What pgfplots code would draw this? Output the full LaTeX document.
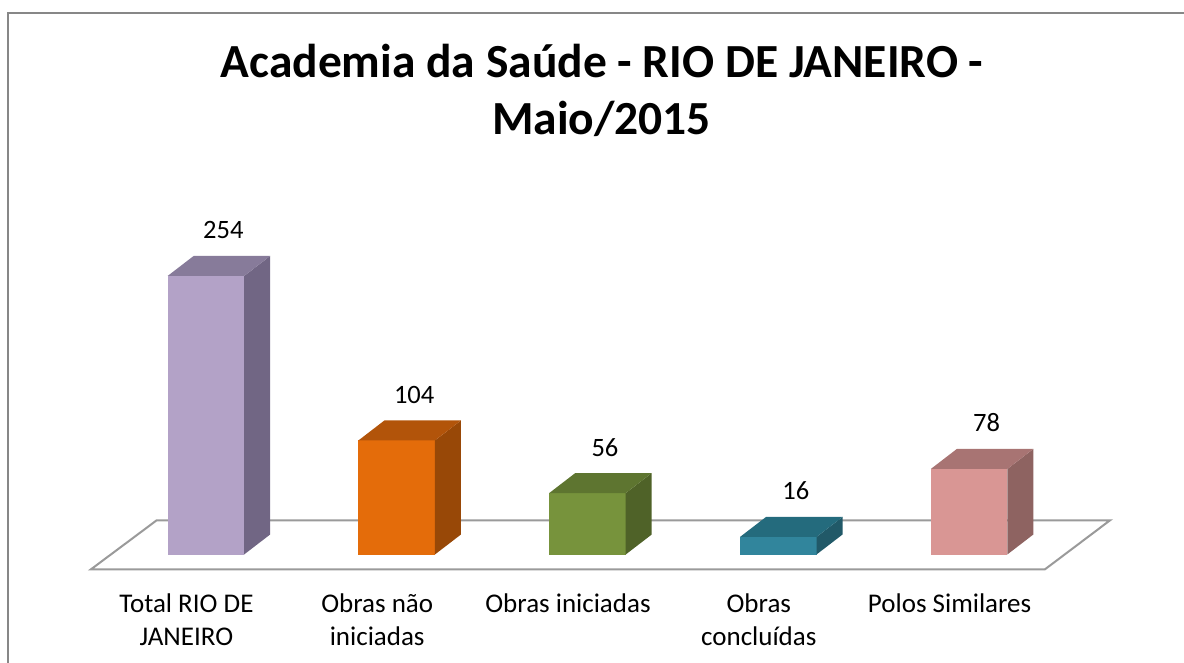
\documentclass[border=0pt]{standalone}
\usepackage{fontspec}
\setmainfont{Carlito}
\usepackage{pgfplots}
\pgfplotsset{compat=1.18}
\definecolor{fA}{HTML}{B3A2C7}\definecolor{sA}{HTML}{716684}\definecolor{tA}{HTML}{877B9A}
\definecolor{fB}{HTML}{E46C0A}\definecolor{sB}{HTML}{984807}\definecolor{tB}{HTML}{B2540A}
\definecolor{fC}{HTML}{77933C}\definecolor{sC}{HTML}{4F6228}\definecolor{tC}{HTML}{5E7530}
\definecolor{fD}{HTML}{31859C}\definecolor{sD}{HTML}{215968}\definecolor{tD}{HTML}{246B7D}
\definecolor{fE}{HTML}{D99694}\definecolor{sE}{HTML}{8E6361}\definecolor{tE}{HTML}{A87473}
\definecolor{floorgray}{HTML}{9A9A9A}
\definecolor{bordergray}{HTML}{878787}
% 3D bar: #1 category, #2 value, #3 front, #4 side, #5 top
\newcommand\tdbar[5]{%
 \pgfmathsetmacro\xl{#1+0.102-0.2005}%
 \pgfmathsetmacro\xr{#1+0.102+0.2005}%
 \pgfmathsetmacro\xc{#1+0.102}%
 \pgfmathsetmacro\xrd{#1+0.102+0.2005+0.1363}%
 \pgfmathsetmacro\xld{#1+0.102-0.2005+0.1363}%
 \pgfmathsetmacro\vd{#2+18.24}%
 \edef\tmp{%
  \noexpand\addplot[fill=#3, draw=none] coordinates {(\xl,0) (\xr,0) (\xr,#2) (\xl,#2)} -- cycle;
  \noexpand\addplot[fill=#4, draw=none] coordinates {(\xr,0) (\xrd,18.24) (\xrd,\vd) (\xr,#2)} -- cycle;
  \noexpand\addplot[fill=#5, draw=none] coordinates {(\xl,#2) (\xr,#2) (\xrd,\vd) (\xld,\vd)} -- cycle;
  \noexpand\addplot[draw=none, mark=none, nodes near coords, point meta=y] coordinates {(\xc,#2)};
 }\tmp}
\begin{document}
\begin{tikzpicture}
\useasboundingbox (0pt,0pt) rectangle (1184pt,-663pt);
\draw[bordergray, line width=2pt] (8pt,-663pt) -- (8pt,-13pt) -- (1184pt,-13pt);
\node[anchor=base, font=\fontsize{47.5}{58}\selectfont\bfseries] at (602pt,-78pt) {Academia da Saúde - RIO DE JANEIRO -};
\node[anchor=base, font=\fontsize{47.5}{58}\selectfont\bfseries] at (601.5pt,-135pt) {Maio/2015};
\begin{axis}[
  at={(91pt,-569.3pt)}, anchor=south west,
  scale only axis, width=954pt, height=328.95pt,
  xmin=-0.5, xmax=4.5, ymin=-13.5, ymax=286.5,
  clip=false,
  axis line style={draw=none}, tick style={draw=none},
  ytick=\empty,
  xtick={0,1,2,3,4},
  xticklabels={{Total RIO DE\\JANEIRO},{Obras não\\iniciadas},{Obras iniciadas},{Obras\\concluídas},{Polos Similares}},
  xticklabel style={align=center, anchor=north, inner sep=0pt, yshift=-24.5pt, font=\fontsize{27}{32.5}\selectfont},
  /pgf/number format/assume math mode=true,
  every node near coord/.style={anchor=base, inner sep=0pt, xshift=17.5pt, yshift=37pt, font=\fontsize{26.5}{32}\selectfont, text=black},
]
\addplot[fill=white, draw=floorgray, line width=2pt] coordinates {(-0.5,-13.5) (4.5,-13.5) (4.841,31.2) (-0.1557,31.2)} -- cycle;
\tdbar{0}{254}{fA}{sA}{tA}
\tdbar{1}{104}{fB}{sB}{tB}
\tdbar{2}{56}{fC}{sC}{tC}
\tdbar{3}{16}{fD}{sD}{tD}
\tdbar{4}{78}{fE}{sE}{tE}
\end{axis}
\end{tikzpicture}
\end{document}
